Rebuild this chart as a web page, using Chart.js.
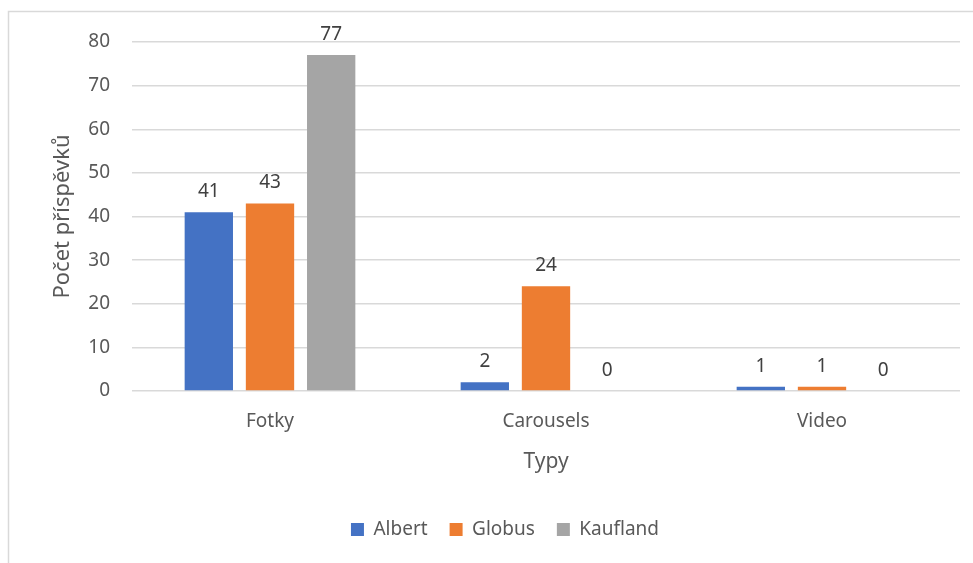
<!DOCTYPE html>
<html>
<head>
<meta charset="utf-8">
<script src="https://cdn.jsdelivr.net/npm/chart.js@4"></script>
<style>
  html, body { margin: 0; padding: 0; background: #fff; }
  #wrap { position: relative; width: 973px; height: 563px; }
  canvas { display: block; }
</style>
</head>
<body>
<div id="wrap"><canvas id="graf" width="973" height="563"></canvas></div>
<script>
const kategorie = ["Fotky", "Carousels", "Video"];
const albert = [41, 2, 1];
const globus = [43, 24, 1];
const kaufland = [77, 0, 0];
const yTicks = [0, 10, 20, 30, 40, 50, 60, 70, 80];

const fontName = "'Noto Sans', 'Open Sans', sans-serif";
const textColor = "#595959";

// ramecek kolem grafu
const ramecek = {
  id: "ramecek",
  beforeDraw(chart) {
    const ctx = chart.ctx;
    ctx.save();
    ctx.fillStyle = "#fff";
    ctx.fillRect(0, 0, chart.width, chart.height);
    ctx.strokeStyle = "#d9d9d9";
    ctx.lineWidth = 1.5;
    ctx.strokeRect(8.5, 11.5, 1100, 1100);
    ctx.restore();
  }
};

// hodnoty nad sloupci
const popisky = {
  id: "popisky",
  afterDatasetsDraw(chart) {
    const ctx = chart.ctx;
    ctx.save();
    ctx.font = "19px " + fontName;
    ctx.fillStyle = "#404040";
    ctx.textAlign = "center";
    ctx.textBaseline = "bottom";
    chart.data.datasets.forEach((ds, i) => {
      chart.getDatasetMeta(i).data.forEach((bar, j) => {
        ctx.fillText(String(ds.data[j]), bar.x, bar.y - 11);
      });
    });
    ctx.restore();
  }
};

new Chart(document.getElementById("graf"), {
  type: "bar",
  data: {
    labels: kategorie,
    datasets: [
      { label: "Albert", data: albert, backgroundColor: "#4472C4" },
      { label: "Globus", data: globus, backgroundColor: "#ED7D31" },
      { label: "Kaufland", data: kaufland, backgroundColor: "#A5A5A5" }
    ]
  },
  options: {
    responsive: false,
    animation: false,
    devicePixelRatio: 1,
    barPercentage: 0.79,
    categoryPercentage: 0.665,
    layout: { padding: { left: 50, top: 42, right: 13, bottom: 14 } },
    plugins: {
      tooltip: { enabled: false },
      legend: {
        position: "bottom",
        labels: {
          boxWidth: 13,
          boxHeight: 13,
          padding: 22,
          color: textColor,
          font: { family: fontName, size: 19 }
        }
      }
    },
    scales: {
      x: {
        grid: { display: false },
        border: { display: false },
        ticks: { color: textColor, padding: 11, font: { family: fontName, size: 19 } },
        title: {
          display: true,
          text: "Typy",
          color: textColor,
          padding: { top: 0, bottom: 23 },
          font: { family: fontName, size: 21 }
        },
        afterFit(scale) { scale.height = 107; }
      },
      y: {
        min: 0,
        max: 80,
        afterBuildTicks(scale) { scale.ticks = yTicks.map(v => ({ value: v })); },
        grid: { color: "#d9d9d9", lineWidth: 1.5, drawTicks: false },
        border: { display: false },
        ticks: { color: textColor, padding: 22, font: { family: fontName, size: 19 } },
        title: {
          display: true,
          text: "Počet příspěvků",
          color: textColor,
          padding: 0,
          font: { family: fontName, size: 22 }
        },
        afterFit(scale) { scale.width = 82; }
      }
    }
  },
  plugins: [ramecek, popisky]
});
</script>
</body>
</html>
